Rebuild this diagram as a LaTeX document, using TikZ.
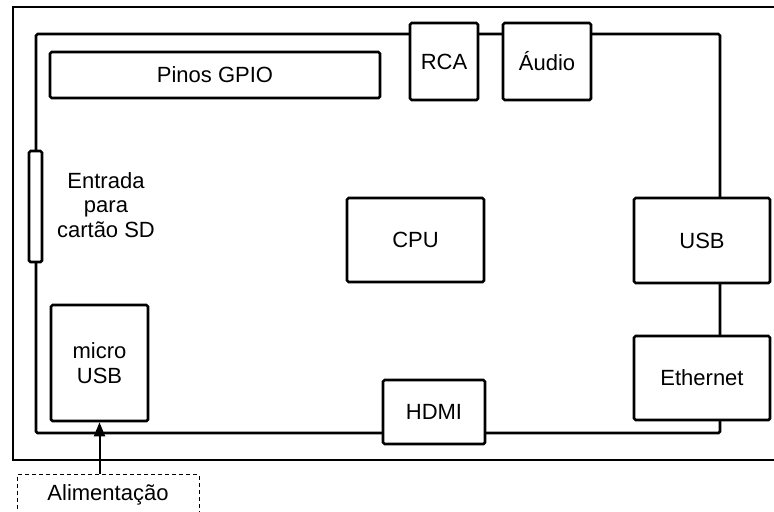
\documentclass[tikz,border=0pt]{standalone}
\usepackage{fontspec}
\setmainfont{Liberation Sans}
\usetikzlibrary{arrows.meta,positioning}
\tikzset{every picture/.style={font issue=\fontsize{11}{12.3}},
         font issue/.style={execute at begin picture={#1\selectfont}},
         part/.style={draw, fill=white, line width=1.3pt, rounded corners=0.8pt,
                      inner sep=0pt, align=center},
         supply/.style={draw, dashed, dash pattern=on 2pt off 1.5pt, line width=0.5pt,
                        inner sep=0pt, anchor=north}
        }

\begin{document}
\begin{tikzpicture}[x=0.5pt,y=-0.5pt]
\useasboundingbox (0,0) rectangle (774,511);
\clip (0,0) rectangle (774,511);

%Outer frame and board
\draw[line width=0.9pt] (13,7) rectangle (820,460);
\draw[line width=1.3pt, rounded corners=0.8pt] (36,34) rectangle (720,433);

%Parts on the board
\node[part, minimum width=165pt, minimum height=23pt] (gpio) at (215,75) {Pinos GPIO};
\node[part, minimum width=34pt, minimum height=38.5pt] (rca) at (444,61.5) {RCA};
\node[part, minimum width=44pt, minimum height=38.5pt] (audio) at (547,61.5) {Áudio};
\node[part, minimum width=6.5pt, minimum height=55.5pt] (sd) at (35.5,206.5) {};
\node[align=center] (sdtext) at (106,205) {Entrada\\para\\cartão SD};
\node[part, minimum width=68.5pt, minimum height=42pt] (cpu) at (415.5,240) {CPU};
\node[part, minimum width=68pt, minimum height=42.5pt] (usb) at (702,240.5) {USB};
\node[part, minimum width=68pt, minimum height=42pt] (eth) at (702,378) {Ethernet};
\node[part, minimum width=48.5pt, minimum height=58pt] (microusb) at (99.5,363) {micro\\USB};
\node[part, minimum width=51pt, minimum height=32pt] (hdmi) at (434,412) {HDMI};

%Power supply
\node[supply, minimum width=91pt, minimum height=20pt] (alim) at (108,474) {Alimentação};
\draw[line width=1pt, -{Triangle[length=7pt,width=5.5pt]}]
  (microusb.south |- alim.north) -- (microusb.south);
\end{tikzpicture}
\end{document}
